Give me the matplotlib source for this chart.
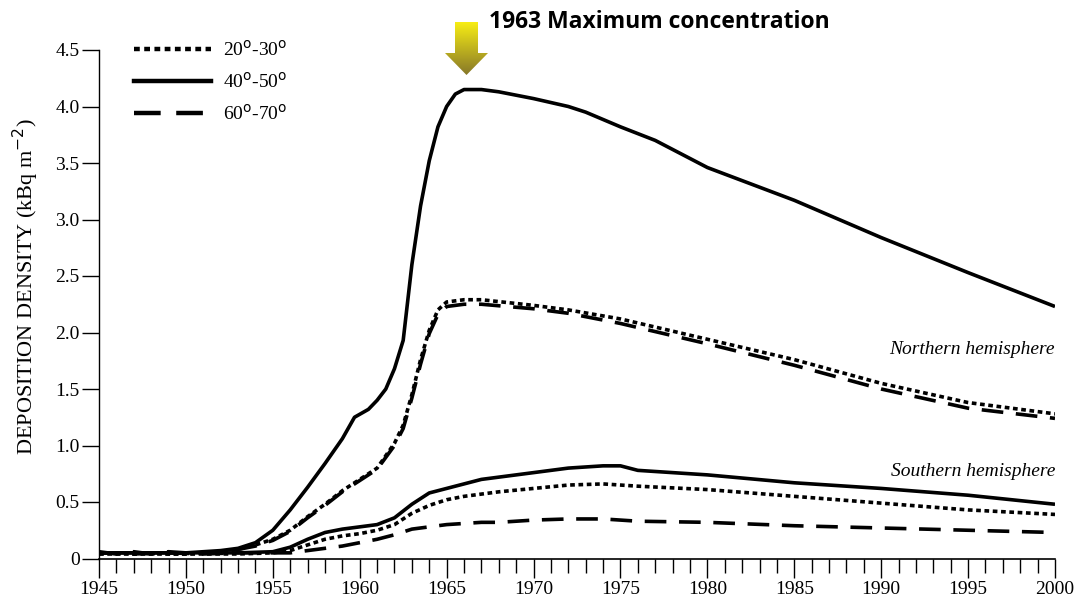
import numpy as np
import matplotlib.pyplot as plt
from matplotlib.patches import Polygon
from matplotlib.lines import Line2D

# Northern hemisphere, 40-50 deg band
yr_n40 = [1945, 1946, 1947, 1948, 1949, 1950, 1951, 1952, 1953, 1954, 1955, 1956, 1957, 1958,
          1959, 1959.7, 1960.5, 1961, 1961.5, 1962, 1962.5, 1963, 1963.5, 1964, 1964.5, 1965,
          1965.5, 1966, 1967, 1968, 1970, 1972, 1973, 1975, 1977, 1980, 1985, 1990, 1995, 2000]
val_n40 = [0.05, 0.05, 0.05, 0.05, 0.05, 0.05, 0.06, 0.07, 0.09, 0.14, 0.25, 0.43, 0.63, 0.84,
           1.06, 1.25, 1.32, 1.4, 1.5, 1.68, 1.93, 2.6, 3.12, 3.52, 3.82, 4.0,
           4.11, 4.15, 4.15, 4.13, 4.07, 4.0, 3.95, 3.82, 3.7, 3.46, 3.17, 2.84, 2.53, 2.23]

# Northern hemisphere, 20-30 and 60-70 deg bands
yr_n = [1945, 1946, 1947, 1948, 1949, 1950, 1951, 1952, 1953, 1954, 1955, 1956, 1957, 1958,
        1959, 1960, 1961, 1962, 1962.5, 1963, 1963.5, 1964, 1964.5, 1965, 1966, 1967, 1970,
        1972, 1975, 1980, 1985, 1990, 1995, 2000]
val_n20 = [0.04, 0.05, 0.04, 0.05, 0.04, 0.04, 0.05, 0.06, 0.08, 0.12, 0.17, 0.25, 0.37, 0.48,
           0.6, 0.7, 0.8, 1.02, 1.18, 1.45, 1.76, 2.02, 2.2, 2.27, 2.29, 2.29, 2.24,
           2.2, 2.12, 1.94, 1.76, 1.55, 1.38, 1.28]
val_n60 = [0.06, 0.04, 0.06, 0.04, 0.06, 0.05, 0.05, 0.06, 0.08, 0.11, 0.16, 0.24, 0.36, 0.47,
           0.59, 0.69, 0.79, 1.0, 1.15, 1.42, 1.72, 1.99, 2.16, 2.23, 2.25, 2.25, 2.21,
           2.17, 2.08, 1.9, 1.71, 1.5, 1.33, 1.24]

# Southern hemisphere
yr_s = [1945, 1947, 1949, 1951, 1953, 1955, 1956, 1957, 1958, 1959, 1960, 1961, 1962, 1963,
        1964, 1965, 1966, 1967, 1968, 1970, 1972, 1974, 1975, 1976, 1980, 1985, 1990, 1995, 2000]
val_s40 = [0.05, 0.05, 0.05, 0.05, 0.05, 0.06, 0.1, 0.17, 0.23, 0.26, 0.28, 0.3, 0.36, 0.48,
           0.58, 0.62, 0.66, 0.7, 0.72, 0.76, 0.8, 0.82, 0.82, 0.78, 0.74, 0.67, 0.62, 0.56, 0.48]
val_s20 = [0.04, 0.04, 0.04, 0.04, 0.04, 0.05, 0.07, 0.12, 0.17, 0.2, 0.22, 0.25, 0.3, 0.4,
           0.47, 0.52, 0.55, 0.57, 0.59, 0.62, 0.65, 0.66, 0.65, 0.64, 0.61, 0.55, 0.49, 0.43, 0.39]
val_s60 = [0.05, 0.04, 0.05, 0.04, 0.05, 0.05, 0.05, 0.07, 0.09, 0.11, 0.14, 0.17, 0.21, 0.26,
           0.28, 0.3, 0.31, 0.32, 0.32, 0.34, 0.35, 0.35, 0.34, 0.33, 0.32, 0.29, 0.27, 0.25, 0.23]

yticks = [0, 0.5, 1.0, 1.5, 2.0, 2.5, 3.0, 3.5, 4.0, 4.5]
ytick_labels = ['0', '0.5', '1.0', '1.5', '2.0', '2.5', '3.0', '3.5', '4.0', '4.5']
xticks = [1945, 1950, 1955, 1960, 1965, 1970, 1975, 1980, 1985, 1990, 1995, 2000]

serif = 'Liberation Serif'
lw = 2.6
dot = (0, (1.3, 1.0))
dash = (0, (6, 3.5))

fig = plt.figure(figsize=(10.79, 5.98), dpi=100)
ax = fig.add_axes([99 / 1079, 39.5 / 598, 956 / 1079, 508.5 / 598])

ax.plot(yr_n40, val_n40, color='black', lw=lw, solid_capstyle='butt')
ax.plot(yr_n, val_n20, color='black', lw=lw, linestyle=dot, dash_capstyle='butt')
ax.plot(yr_n, val_n60, color='black', lw=lw, linestyle=dash, dash_capstyle='butt')
ax.plot(yr_s, val_s40, color='black', lw=lw, solid_capstyle='butt')
ax.plot(yr_s, val_s20, color='black', lw=lw, linestyle=dot, dash_capstyle='butt')
ax.plot(yr_s, val_s60, color='black', lw=lw, linestyle=dash, dash_capstyle='butt')

ax.set_xlim(1945, 2000)
ax.set_ylim(0, 4.5)
for s in ['top', 'right']:
    ax.spines[s].set_visible(False)
ax.spines['left'].set_linewidth(1)
ax.spines['bottom'].set_linewidth(1.2)

ax.set_yticks(yticks)
ax.set_yticklabels(ytick_labels, fontfamily=serif, fontsize=14)
ax.set_xticks(xticks)
ax.set_xticklabels([str(x) for x in xticks], fontfamily=serif, fontsize=14)
ax.set_xticks(np.arange(1945, 2001, 1), minor=True)
ax.tick_params(axis='y', direction='out', length=12, width=1, pad=2)
ax.tick_params(axis='x', which='major', direction='out', length=14, width=1, pad=2)
ax.tick_params(axis='x', which='minor', direction='out', length=10, width=1)

ax.set_ylabel('DEPOSITION DENSITY (kBq m$^{-2}$)', fontfamily=serif, fontsize=16)
ax.yaxis.label.set_va('center')
ax.yaxis.set_label_coords(-0.076, 0.535)

ax.text(2000, 1.85, 'Northern hemisphere', fontfamily=serif, style='italic', fontsize=14,
        ha='right', va='center')
ax.text(2000, 0.77, 'Southern hemisphere', fontfamily=serif, style='italic', fontsize=14,
        ha='right', va='center')

handles = [Line2D([], [], color='black', lw=lw + 0.6, linestyle=dot, dash_capstyle='butt'),
           Line2D([], [], color='black', lw=lw + 0.6),
           Line2D([], [], color='black', lw=lw + 0.6, linestyle=dash, dash_capstyle='butt')]
labels = ['20$^{\\mathrm{o}}$-30$^{\\mathrm{o}}$', '40$^{\\mathrm{o}}$-50$^{\\mathrm{o}}$',
          '60$^{\\mathrm{o}}$-70$^{\\mathrm{o}}$']
ax.legend(handles, labels, loc='upper left', bbox_to_anchor=(0.018, 1.055), frameon=False,
          prop={'family': serif, 'size': 14}, handlelength=4.0, handletextpad=0.6,
          labelspacing=0.62)

# title text and the gradient arrow above the peak
fig.text(489 / 1079, 1 - 22 / 598, '1963 Maximum concentration', fontfamily='Open Sans',
         fontweight='bold', fontsize=16.5, va='center', ha='left')

arr_ax = fig.add_axes([445 / 1079, 1 - 75 / 598, 44 / 1079, 53 / 598])
arr_ax.set_xlim(0, 44)
arr_ax.set_ylim(0, 53)
arr_ax.axis('off')
grad = np.linspace(0, 1, 100)[:, None]
top_c = np.array([0.97, 0.93, 0.08])
bot_c = np.array([0.53, 0.47, 0.16])
img = (bot_c[None, None, :] * (1 - grad[..., None]) + top_c[None, None, :] * grad[..., None])
img = np.repeat(img, 2, axis=1)
im = arr_ax.imshow(img, extent=[0, 44, 0, 53], origin='lower', aspect='auto')
shape = Polygon([[10, 53], [33, 53], [33, 22], [43, 22], [21.5, 0], [0, 22], [10, 22]],
                closed=True, facecolor='none', edgecolor='none')
arr_ax.add_patch(shape)
im.set_clip_path(shape)

fig.savefig('out.png', dpi=100)
